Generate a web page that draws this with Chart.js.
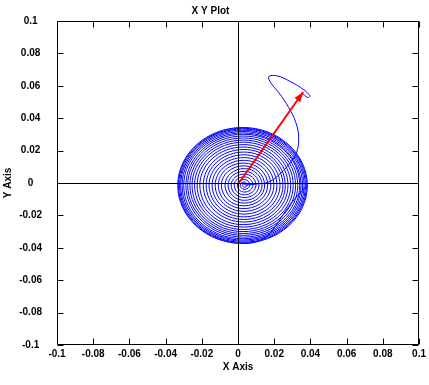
<!DOCTYPE html>
<html>
<head>
<meta charset="utf-8">
<script src="https://cdn.jsdelivr.net/npm/chart.js@4.4.1/dist/chart.umd.min.js"></script>
<style>
html,body{margin:0;padding:0;background:#fff;}
#c{display:block;}
</style>
</head>
<body>
<canvas id="c" width="429" height="385"></canvas>
<script>
// ---- data ----
const xTickValues = [-0.1,-0.08,-0.06,-0.04,-0.02,0,0.02,0.04,0.06,0.08,0.1];
const xTickLabels = ["-0.1","-0.08","-0.06","-0.04","-0.02","0","0.02","0.04","0.06","0.08","0.1"];
const yTickValues = [-0.1,-0.08,-0.06,-0.04,-0.02,0,0.02,0.04,0.06,0.08,0.1];
const yTickLabels = ["-0.1","-0.08","-0.06","-0.04","-0.02","0","0.02","0.04","0.06","0.08","0.1"];

// initial state vector (arrow)
const arrowStart = [0.0005, 0.0];
const arrowEnd = [0.0360, 0.0562];

// trajectory from the initial state into the centre
const entryPath = [
  [0.0352,0.0558],[0.0385,0.0527],[0.0396,0.0539],[0.0363,0.0576],
  [0.0291,0.0625],[0.0214,0.0662],[0.0170,0.0656],[0.0181,0.0619],
  [0.0225,0.0558],[0.0280,0.0466],[0.0319,0.0374],[0.0335,0.0282],
  [0.0324,0.0190],[0.0291,0.0129],[0.0236,0.0061],[0.0170,0.0006],
  [0.0104,-0.0006],[0.0049,-0.0012],[0.0040,-0.0013]
];

// outward spiral (4 points per turn: right, top, left, bottom)
const spiralPath = [
  [0.0040,-0.0013],[0.0035,-0.0006],[0.0025,-0.0013],[0.0035,-0.0026],
  [0.0050,-0.0013],[0.0035,0.0006],[0.0012,-0.0013],[0.0035,-0.0039],
  [0.0065,-0.0013],[0.0035,0.0021],[-0.0004,-0.0013],[0.0035,-0.0056],
  [0.0082,-0.0013],[0.0035,0.0038],[-0.0021,-0.0013],[0.0035,-0.0073],
  [0.0099,-0.0013],[0.0035,0.0055],[-0.0038,-0.0013],[0.0035,-0.0090],
  [0.0116,-0.0013],[0.0035,0.0072],[-0.0055,-0.0013],[0.0035,-0.0107],
  [0.0133,-0.0013],[0.0035,0.0089],[-0.0072,-0.0013],[0.0035,-0.0124],
  [0.0147,-0.0013],[0.0032,0.0106],[-0.0092,-0.0013],[0.0032,-0.0141],
  [0.0164,-0.0013],[0.0032,0.0123],[-0.0109,-0.0013],[0.0032,-0.0158],
  [0.0181,-0.0013],[0.0032,0.0140],[-0.0126,-0.0013],[0.0032,-0.0175],
  [0.0198,-0.0013],[0.0032,0.0157],[-0.0143,-0.0013],[0.0032,-0.0192],
  [0.0215,-0.0013],[0.0032,0.0174],[-0.0160,-0.0013],[0.0032,-0.0209],
  [0.0232,-0.0013],[0.0032,0.0191],[-0.0176,-0.0013],[0.0032,-0.0225],
  [0.0248,-0.0013],[0.0032,0.0207],[-0.0192,-0.0013],[0.0032,-0.0241],
  [0.0261,-0.0014],[0.0029,0.0222],[-0.0211,-0.0014],[0.0029,-0.0257],
  [0.0276,-0.0014],[0.0029,0.0237],[-0.0226,-0.0014],[0.0029,-0.0272],
  [0.0291,-0.0014],[0.0029,0.0252],[-0.0240,-0.0014],[0.0029,-0.0287],
  [0.0305,-0.0014],[0.0029,0.0265],[-0.0254,-0.0014],[0.0029,-0.0300],
  [0.0318,-0.0014],[0.0029,0.0278],[-0.0266,-0.0014],[0.0029,-0.0312],
  [0.0330,-0.0014],[0.0029,0.0290],[-0.0278,-0.0014],[0.0029,-0.0323],
  [0.0341,-0.0014],[0.0029,0.0301],[-0.0288,-0.0014],[0.0029,-0.0334],
  [0.0348,-0.0015],[0.0026,0.0309],[-0.0300,-0.0015],[0.0026,-0.0344],
  [0.0357,-0.0015],[0.0026,0.0318],[-0.0309,-0.0015],[0.0026,-0.0352],
  [0.0365,-0.0015],[0.0026,0.0326],[-0.0317,-0.0015],[0.0026,-0.0359],
  [0.0372,-0.0015],[0.0026,0.0333],[-0.0323,-0.0015],[0.0026,-0.0366],
  [0.0378,-0.0015],[0.0026,0.0338],[-0.0329,-0.0015],[0.0026,-0.0371],
  [0.0383,-0.0015],[0.0026,0.0343],[-0.0333,-0.0015],[0.0026,-0.0374],
  [0.0386,-0.0015]
];

// ---- chart ----
const FONT = "'Liberation Sans', Arial, Helvetica, sans-serif";
const toXY = arr => arr.map(([x, y]) => ({x, y}));

const framePlugin = {
  id: 'frame',
  afterDatasetDraw(chart, args) {
    if (args.index !== 1) return;
    const {ctx, chartArea: a, scales: {x: xs, y: ys}} = chart;
    ctx.save();
    ctx.strokeStyle = '#000';
    ctx.lineWidth = 1;
    ctx.beginPath();
    const L = Math.round(a.left) + 0.5, R = Math.round(a.right) - 0.5;
    const T = Math.round(a.top) + 0.5, B = Math.round(a.bottom) - 0.5;
    ctx.rect(L, T, R - L, B - T);
    const tl = 6;
    xTickValues.forEach(v => {
      const px = Math.round(xs.getPixelForValue(v)) + 0.5;
      ctx.moveTo(px, B); ctx.lineTo(px, B - tl);
      ctx.moveTo(px, T); ctx.lineTo(px, T + tl);
    });
    yTickValues.forEach(v => {
      const py = Math.round(ys.getPixelForValue(v)) + 0.5;
      ctx.moveTo(L, py); ctx.lineTo(L + tl, py);
      ctx.moveTo(R, py); ctx.lineTo(R - tl, py);
    });
    const x0 = Math.round(xs.getPixelForValue(0)) + 0.5;
    const y0 = Math.round(ys.getPixelForValue(0)) + 0.5;
    ctx.moveTo(x0, T); ctx.lineTo(x0, B);
    ctx.moveTo(L, y0); ctx.lineTo(R, y0);
    ctx.stroke();
    ctx.restore();
  },
  afterDatasetsDraw(chart) {
    const meta = chart.getDatasetMeta(0);
    if (!meta || meta.data.length < 2) return;
    const p0 = meta.data[0], p1 = meta.data[1];
    const ang = Math.atan2(p1.y - p0.y, p1.x - p0.x);
    const len = 10, hw = 3.5;
    const ctx = chart.ctx;
    ctx.save();
    ctx.fillStyle = '#ff0000';
    ctx.beginPath();
    ctx.moveTo(p1.x, p1.y);
    ctx.lineTo(p1.x - len * Math.cos(ang) + hw * Math.sin(ang), p1.y - len * Math.sin(ang) - hw * Math.cos(ang));
    ctx.lineTo(p1.x - len * Math.cos(ang) - hw * Math.sin(ang), p1.y - len * Math.sin(ang) + hw * Math.cos(ang));
    ctx.closePath();
    ctx.fill();
    ctx.restore();
  }
};

const tickFont = {family: FONT, size: 10, weight: 'bold'};

new Chart(document.getElementById('c'), {
  type: 'scatter',
  data: {
    datasets: [
      {
        label: 'State vector',
        data: toXY([arrowStart, arrowEnd]),
        showLine: true, borderColor: '#ff0000', borderWidth: 2,
        pointRadius: 0, tension: 0
      },
      {
        label: 'Spiral',
        data: toXY(spiralPath),
        showLine: true, borderColor: '#0000ff', borderWidth: 1,
        pointRadius: 0, tension: 0.55
      },
      {
        label: 'Entry',
        data: toXY(entryPath),
        showLine: true, borderColor: '#0000ff', borderWidth: 1,
        pointRadius: 0, tension: 0.4
      }
    ]
  },
  options: {
    responsive: false,
    animation: false,
    events: [],
    layout: {padding: {left: 0, right: 8, top: 0, bottom: 0}},
    plugins: {
      legend: {display: false},
      tooltip: {enabled: false},
      title: {
        display: true, text: 'X Y Plot', color: '#000',
        font: {family: FONT, size: 10, weight: 'bold'},
        padding: {top: 2, bottom: 4}
      }
    },
    scales: {
      x: {
        type: 'linear', min: -0.1, max: 0.1,
        afterBuildTicks: s => { s.ticks = xTickValues.map(v => ({value: v})); },
        afterFit: s => { s.height = 40; },
        grid: {display: false, drawTicks: false},
        border: {display: false},
        ticks: {
          color: '#000', font: tickFont, padding: 3, maxRotation: 0, autoSkip: false,
          callback: (v, i) => xTickLabels[i]
        },
        title: {display: true, text: 'X Axis', color: '#000', font: tickFont, padding: {top: 12, bottom: 12}}
      },
      y: {
        type: 'linear', min: -0.1, max: 0.1,
        afterBuildTicks: s => { s.ticks = yTickValues.map(v => ({value: v})); },
        afterFit: s => { s.width = 57; },
        grid: {display: false, drawTicks: false},
        border: {display: false},
        ticks: {
          color: '#000', font: tickFont, padding: 15, crossAlign: 'center', autoSkip: false,
          callback: (v, i) => yTickLabels[i]
        },
        title: {display: true, text: 'Y Axis', color: '#000', font: tickFont, padding: {top: 2, bottom: 2}}
      }
    }
  },
  plugins: [framePlugin]
});
</script>
</body>
</html>
